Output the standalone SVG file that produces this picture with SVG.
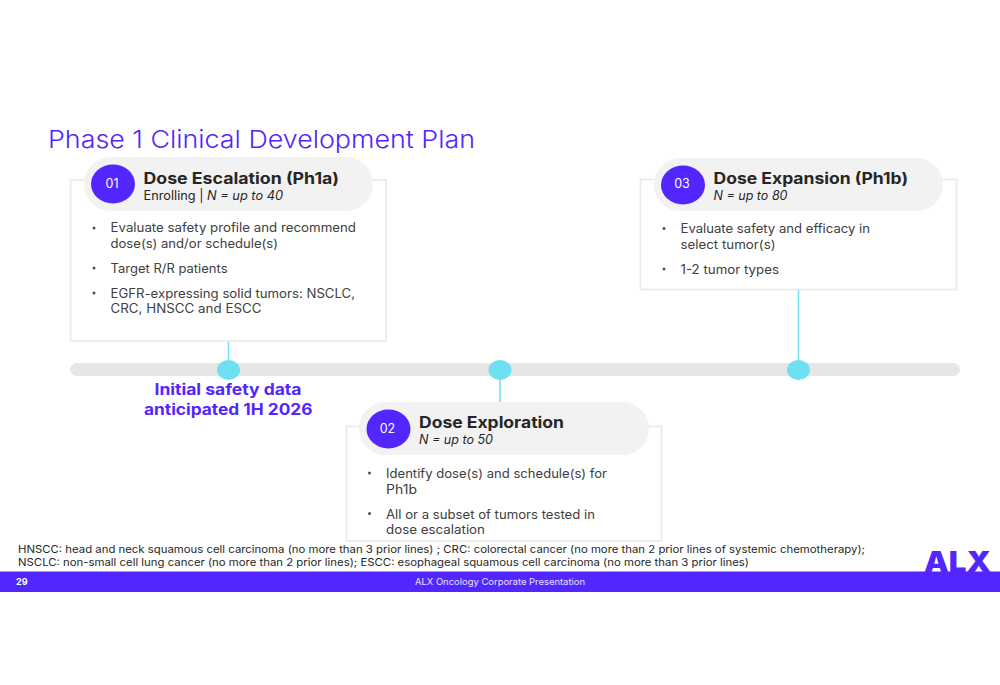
<svg xmlns="http://www.w3.org/2000/svg" width="1000" height="685" viewBox="0 0 1000 685">
<style>
text{font-family:Inter,"Liberation Sans",sans-serif}
.card{fill:#fff;stroke:#ebebeb;stroke-width:1.800}
.pill{fill:#f2f2f2}
.num{fill:#5326ff}
.numt{fill:#fff;font-size:12.500px;text-anchor:middle}
.h{fill:#262626;font-size:15.500px;font-weight:700}
.s{fill:#262626;font-size:12.500px}
.b{fill:#404040;font-size:12.500px}
.dot{fill:#44546a}
.c{stroke:#6fdff2;stroke-width:1.500;fill:none}
.m{fill:#6fdff2}
.f{fill:#262626;font-size:10.500px}
</style>
<rect width="1000" height="685" fill="#fff"/>
<text x="48" y="148" fill="#5326ff" font-size="24" font-weight="300" textLength="427" lengthAdjust="spacingAndGlyphs">Phase 1 Clinical Development Plan</text>
<rect id="timeline" x="70" y="363" width="890" height="13" rx="6.500" fill="#e6e6e6"/>
<g id="connectors">
<path class="c" d="M228.500 341V362"/>
<path class="c" d="M500 378V402"/>
<path class="c" d="M798.500 290V362"/>
</g>
<g id="milestones">
<ellipse class="m" cx="228.500" cy="370" rx="11.500" ry="10"/>
<ellipse class="m" cx="500" cy="370" rx="11.500" ry="10"/>
<ellipse class="m" cx="798.500" cy="370" rx="11.500" ry="10"/>
</g>
<g id="node-01">
<rect class="card" x="70.500" y="180" width="315.500" height="161"/>
<rect class="pill" x="84" y="157" width="289" height="54" rx="27"/>
<ellipse class="num" cx="113" cy="184" rx="22" ry="19.500"/>
<text class="numt" x="112" y="188">01</text>
<text class="h" x="143.500" y="184" textLength="195.500" lengthAdjust="spacingAndGlyphs">Dose Escalation (Ph1a)</text>
<text class="s" x="143.500" y="200" textLength="139.500" lengthAdjust="spacingAndGlyphs">Enrolling | <tspan font-style="italic">N = up to 40</tspan></text>
<circle class="dot" cx="94" cy="228" r="1.500"/>
<text class="b" x="110.500" y="232" textLength="245.500" lengthAdjust="spacingAndGlyphs">Evaluate safety profile and recommend</text>
<text class="b" x="110.500" y="248" textLength="167.500" lengthAdjust="spacingAndGlyphs">dose(s) and/or schedule(s)</text>
<circle class="dot" cx="94" cy="268" r="1.500"/>
<text class="b" x="110.500" y="273" textLength="117" lengthAdjust="spacingAndGlyphs">Target R/R patients</text>
<circle class="dot" cx="94" cy="293" r="1.500"/>
<text class="b" x="110.500" y="298" textLength="244.500" lengthAdjust="spacingAndGlyphs">EGFR-expressing solid tumors: NSCLC,</text>
<text class="b" x="110.500" y="313" textLength="151" lengthAdjust="spacingAndGlyphs">CRC, HNSCC and ESCC</text>
</g>
<g id="milestone-label" fill="#5326ff" font-size="15.500" font-weight="700">
<text x="154.500" y="395" textLength="147" lengthAdjust="spacingAndGlyphs">Initial safety data</text>
<text x="144" y="415" textLength="168.500" lengthAdjust="spacingAndGlyphs">anticipated 1H 2026</text>
</g>
<g id="node-02">
<rect class="card" x="346.500" y="426.500" width="315" height="114.500"/>
<rect class="pill" x="359" y="402" width="290" height="53" rx="26.500"/>
<ellipse class="num" cx="388.500" cy="429" rx="22" ry="19.500"/>
<text class="numt" x="387.500" y="432.500">02</text>
<text class="h" x="419" y="428" textLength="145" lengthAdjust="spacingAndGlyphs">Dose Exploration</text>
<text class="s" x="419" y="444" font-style="italic" textLength="74" lengthAdjust="spacingAndGlyphs">N = up to 50</text>
<circle class="dot" cx="369.500" cy="473" r="1.500"/>
<text class="b" x="386" y="478" textLength="221" lengthAdjust="spacingAndGlyphs">Identify dose(s) and schedule(s) for</text>
<text class="b" x="386" y="494" textLength="31" lengthAdjust="spacingAndGlyphs">Ph1b</text>
<circle class="dot" cx="369.500" cy="513.500" r="1.500"/>
<text class="b" x="386" y="518.500" textLength="209" lengthAdjust="spacingAndGlyphs">All or a subset of tumors tested in</text>
<text class="b" x="386" y="534" textLength="99" lengthAdjust="spacingAndGlyphs">dose escalation</text>
</g>
<g id="node-03">
<rect class="card" x="640.500" y="179.500" width="316" height="110"/>
<rect class="pill" x="654" y="158" width="289" height="53" rx="26.500"/>
<ellipse class="num" cx="683" cy="185" rx="22" ry="19.500"/>
<text class="numt" x="682" y="188">03</text>
<text class="h" x="713.500" y="184" textLength="194.500" lengthAdjust="spacingAndGlyphs">Dose Expansion (Ph1b)</text>
<text class="s" x="713.500" y="200" font-style="italic" textLength="74" lengthAdjust="spacingAndGlyphs">N = up to 80</text>
<circle class="dot" cx="664" cy="228.500" r="1.500"/>
<text class="b" x="680.500" y="233" textLength="189.500" lengthAdjust="spacingAndGlyphs">Evaluate safety and efficacy in</text>
<text class="b" x="680.500" y="249" textLength="95" lengthAdjust="spacingAndGlyphs">select tumor(s)</text>
<circle class="dot" cx="664" cy="269" r="1.500"/>
<text class="b" x="680.500" y="273.500" textLength="98.500" lengthAdjust="spacingAndGlyphs">1-2 tumor types</text>
</g>
<g id="footnotes">
<text class="f" x="18" y="553" textLength="847" lengthAdjust="spacingAndGlyphs">HNSCC: head and neck squamous cell carcinoma (no more than 3 prior lines) ; CRC: colorectal cancer (no more than 2 prior lines of systemic chemotherapy);</text>
<text class="f" x="18" y="566" textLength="731" lengthAdjust="spacingAndGlyphs">NSCLC: non-small cell lung cancer (no more than 2 prior lines); ESCC: esophageal squamous cell carcinoma (no more than 3 prior lines)</text>
</g>
<g id="footer">
<rect x="0" y="571.500" width="1000" height="20.500" fill="#5326ff"/>
<text x="16" y="585" fill="#fff" font-size="9" font-weight="700">29</text>
<text x="415" y="584.500" fill="#e8e0ff" font-size="9" textLength="170" lengthAdjust="spacingAndGlyphs">ALX Oncology Corporate Presentation</text>
<text x="924" y="572" fill="#5326ff" font-size="29" font-weight="900" textLength="67" lengthAdjust="spacingAndGlyphs">ALX</text>
</g>
</svg>
